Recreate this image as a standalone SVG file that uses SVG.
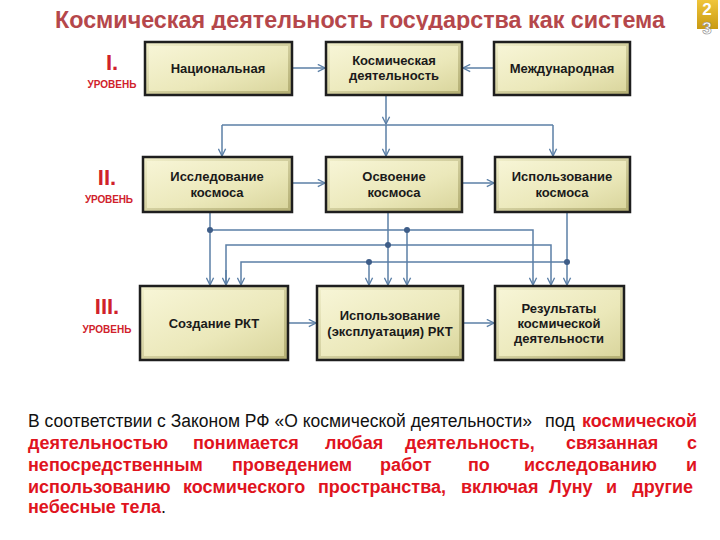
<svg xmlns="http://www.w3.org/2000/svg" width="720" height="540" viewBox="0 0 720 540">
<style>
.box{fill:url(#bevel);stroke:#1e1e1e;stroke-width:2.5}
.face{fill:url(#face)}
.bt{font-family:"Liberation Sans",Arial,sans-serif;font-weight:bold;font-size:13px;fill:#1a1a1a;text-anchor:middle}
.lvl{font-family:"Liberation Sans",Arial,sans-serif;font-weight:bold;fill:#d0212b;text-anchor:middle}
.conn{fill:none;stroke:#5b7fa6;stroke-width:1.5}
.dot{fill:#3e5d88}
.txt{font-family:"Liberation Sans",Arial,sans-serif;font-size:18px}
.blk{fill:#111}
.red{fill:#e0141e;font-weight:bold}
</style>
<defs>
<linearGradient id="bevel" x1="0" y1="0" x2="1" y2="1">
<stop offset="0" stop-color="#f2f0cc"/>
<stop offset="1" stop-color="#b3ae72"/>
</linearGradient>
<linearGradient id="face" x1="0" y1="0" x2="1" y2="1">
<stop offset="0" stop-color="#f7f5d6"/>
<stop offset="0.6" stop-color="#ebe8ba"/>
<stop offset="1" stop-color="#dad69e"/>
</linearGradient>
<linearGradient id="gold" x1="0" y1="0" x2="0" y2="1">
<stop offset="0" stop-color="#f0c53a"/>
<stop offset="1" stop-color="#c99a12"/>
</linearGradient>
<marker id="arr" viewBox="0 0 10 10" refX="9" refY="5" markerWidth="9" markerHeight="9" orient="auto" markerUnits="userSpaceOnUse">
<path d="M1,1 L9,5 L1,9" fill="none" stroke="#5b7fa6" stroke-width="1.5"/>
</marker>
<clipPath id="tclip"><rect x="0" y="0" width="690" height="30"/></clipPath>
</defs>

<g id="title" clip-path="url(#tclip)">
<text x="55" y="28" font-family="'Liberation Sans Narrow','Liberation Sans',Arial,sans-serif" font-weight="bold" font-size="23" fill="#b5474b" textLength="610" lengthAdjust="spacingAndGlyphs">Космическая деятельность государства как система</text>
</g>

<g id="badge">
<rect x="697" y="0" width="21" height="29" fill="url(#gold)"/>
<text x="707" y="15" font-family="'Liberation Sans',sans-serif" font-weight="bold" font-size="17" fill="#fff" text-anchor="middle">2</text>
<text x="707" y="34" font-family="'Liberation Sans',sans-serif" font-weight="bold" font-size="17" fill="#fff" stroke="#888" stroke-width="0.6" text-anchor="middle">3</text>
</g>

<g id="levels">
<text class="lvl" x="112" y="70" font-size="22">I.</text>
<text class="lvl" x="112" y="88" font-size="10" textLength="49">УРОВЕНЬ</text>
<text class="lvl" x="107" y="185" font-size="22">II.</text>
<text class="lvl" x="109" y="203" font-size="10" textLength="48">УРОВЕНЬ</text>
<text class="lvl" x="107" y="314" font-size="22">III.</text>
<text class="lvl" x="107" y="333" font-size="10" textLength="49">УРОВЕНЬ</text>
</g>

<g id="connectors">
<line class="conn" x1="292" y1="68" x2="325" y2="68" marker-end="url(#arr)"/>
<line class="conn" x1="494" y1="68" x2="463" y2="68" marker-end="url(#arr)"/>
<line class="conn" x1="386" y1="95" x2="386" y2="124" marker-end="url(#arr)"/>
<polyline class="conn" points="222,125 553,125"/>
<line class="conn" x1="222" y1="125" x2="222" y2="156" marker-end="url(#arr)"/>
<line class="conn" x1="386" y1="125" x2="386" y2="156" marker-end="url(#arr)"/>
<line class="conn" x1="553" y1="125" x2="553" y2="156" marker-end="url(#arr)"/>
<line class="conn" x1="292" y1="183" x2="325" y2="183" marker-end="url(#arr)"/>
<line class="conn" x1="462" y1="183" x2="494" y2="183" marker-end="url(#arr)"/>
<line class="conn" x1="288" y1="323" x2="316" y2="323" marker-end="url(#arr)"/>
<line class="conn" x1="463" y1="323" x2="494" y2="323" marker-end="url(#arr)"/>
<line class="conn" x1="210" y1="212" x2="210" y2="285" marker-end="url(#arr)"/>
<polyline class="conn" points="210,230 533,230 533,285" marker-end="url(#arr)"/>
<line class="conn" x1="407" y1="230" x2="407" y2="285" marker-end="url(#arr)"/>
<line class="conn" x1="388" y1="212" x2="388" y2="285" marker-end="url(#arr)"/>
<polyline class="conn" points="226,285 226,245 551,245 551,285" marker-end="url(#arr)"/>
<line class="conn" x1="226" y1="270" x2="226" y2="285" marker-end="url(#arr)"/>
<line class="conn" x1="567" y1="212" x2="567" y2="285" marker-end="url(#arr)"/>
<polyline class="conn" points="567,262 241,262 241,285" marker-end="url(#arr)"/>
<line class="conn" x1="369" y1="262" x2="369" y2="285" marker-end="url(#arr)"/>
<circle class="dot" cx="210" cy="230" r="3"/>
<circle class="dot" cx="407" cy="230" r="3"/>
<circle class="dot" cx="388" cy="245" r="3"/>
<circle class="dot" cx="567" cy="262" r="3"/>
<circle class="dot" cx="369" cy="262" r="3"/>
</g>

<g id="n-nat"><rect class="box" x="145" y="42" width="147" height="53"/><rect class="face" x="149" y="46" width="139" height="45"/><text class="bt" x="218" y="73">Национальная</text></g>
<g id="n-kd"><rect class="box" x="326" y="42" width="136" height="53"/><rect class="face" x="330" y="46" width="128" height="45"/><text class="bt" x="394" y="65">Космическая</text><text class="bt" x="394" y="80">деятельность</text></g>
<g id="n-mezh"><rect class="box" x="494" y="42" width="136" height="53"/><rect class="face" x="498" y="46" width="128" height="45"/><text class="bt" x="562" y="73">Международная</text></g>

<g id="n-issl"><rect class="box" x="143" y="157" width="149" height="55"/><rect class="face" x="147" y="161" width="141" height="47"/><text class="bt" x="217" y="181">Исследование</text><text class="bt" x="217" y="197">космоса</text></g>
<g id="n-osv"><rect class="box" x="326" y="157" width="136" height="55"/><rect class="face" x="330" y="161" width="128" height="47"/><text class="bt" x="394" y="181">Освоение</text><text class="bt" x="394" y="197">космоса</text></g>
<g id="n-isp"><rect class="box" x="495" y="157" width="135" height="55"/><rect class="face" x="499" y="161" width="127" height="47"/><text class="bt" x="562" y="181">Использование</text><text class="bt" x="562" y="197">космоса</text></g>

<g id="n-rkt"><rect class="box" x="140" y="286" width="148" height="74"/><rect class="face" x="144" y="290" width="140" height="66"/><text class="bt" x="214" y="328">Создание РКТ</text></g>
<g id="n-expl"><rect class="box" x="317" y="286" width="146" height="74"/><rect class="face" x="321" y="290" width="138" height="66"/><text class="bt" x="390" y="320">Использование</text><text class="bt" x="390" y="336">(эксплуатация) РКТ</text></g>
<g id="n-res"><rect class="box" x="495" y="286" width="129" height="74"/><rect class="face" x="499" y="290" width="121" height="66"/><text class="bt" x="559" y="313">Результаты</text><text class="bt" x="559" y="328">космической</text><text class="bt" x="559" y="343">деятельности</text></g>

<g id="definition" class="txt">
<text class="blk" x="28" y="427" textLength="504" lengthAdjust="spacingAndGlyphs">В соответствии с Законом РФ «О космической деятельности»</text>
<text class="blk" x="545" y="427">под</text>
<text class="red" x="697" y="427" text-anchor="end">космической</text>
<text class="red" y="449"><tspan x="28">деятельностью</tspan><tspan x="193">понимается</tspan><tspan x="325">любая</tspan><tspan x="405">деятельность,</tspan><tspan x="566">связанная</tspan></text>
<text class="red" x="697" y="449" text-anchor="end">с</text>
<text class="red" y="471"><tspan x="28">непосредственным</tspan><tspan x="232">проведением</tspan><tspan x="380">работ</tspan><tspan x="468">по</tspan><tspan x="524">исследованию</tspan></text>
<text class="red" x="697" y="471" text-anchor="end">и</text>
<text class="red" y="493"><tspan x="28">использованию</tspan><tspan x="183">космического</tspan><tspan x="318">пространства,</tspan><tspan x="461">включая</tspan><tspan x="549">Луну</tspan><tspan x="606">и</tspan></text>
<text class="red" x="693" y="493" text-anchor="end">другие</text>
<text y="513"><tspan class="red" x="28">небесные тела</tspan><tspan class="blk">.</tspan></text>
</g>
</svg>
